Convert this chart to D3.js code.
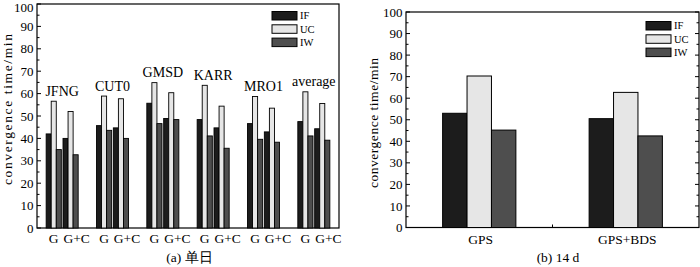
<!DOCTYPE html>
<html>
<head>
<meta charset="utf-8">
<script src="https://cdn.jsdelivr.net/npm/d3@7"></script>
<style>
    body { margin: 0; background: #fff; }
    svg { display: block; font-family: "Liberation Serif", "Times New Roman", serif; }
</style>
</head>
<body>
<div id="chart"></div>
<script>
// (a) single day, per station and mode [G, G+C]
const stations = ["JFNG", "CUT0", "GMSD", "KARR", "MRO1", "average"];
const modes = ["G", "G+C"];
const seriesNames = ["IF", "UC", "IW"];
const ifDaily = [[42.0, 40.0], [45.7, 44.7], [55.7, 48.9], [48.4, 44.7], [46.6, 42.9], [47.5, 44.3]];
const ucDaily = [[56.6, 52.0], [58.9, 57.7], [64.9, 60.4], [63.7, 54.4], [58.7, 53.5], [60.8, 55.6]];
const iwDaily = [[35.0, 32.7], [43.6, 40.0], [46.6, 48.4], [41.1, 35.6], [39.6, 38.3], [41.1, 39.2]];

// (b) 14 d
const systems = ["GPS", "GPS+BDS"];
const if14 = [53.0, 50.5];
const uc14 = [70.3, 62.7];
const iw14 = [45.2, 42.5];

const yTicks = [0, 10, 20, 30, 40, 50, 60, 70, 80, 90, 100];
const yMinorTicks = [5, 15, 25, 35, 45, 55, 65, 75, 85, 95];

const colors = { IF: "#1c1c1c", UC: "#e6e6e6", IW: "#4e4e4e" };

const svg = d3.select("#chart").append("svg")
    .attr("width", 700)
    .attr("height", 267);

function drawFrame(x0, x1, y, rightTicks) {
    const g = svg.append("g");
    const top = y.range()[1], bottom = y.range()[0];

    g.append("rect")
        .attr("x", x0).attr("y", top)
        .attr("width", x1 - x0).attr("height", bottom - top)
        .attr("fill", "none").attr("stroke", "#000").attr("stroke-width", 1.2);

    g.selectAll(".major").data(yTicks).enter().append("line")
        .attr("x1", x0).attr("x2", x0 + 4)
        .attr("y1", d => y(d)).attr("y2", d => y(d))
        .attr("stroke", "#000");
    g.selectAll(".minor").data(yMinorTicks).enter().append("line")
        .attr("x1", x0).attr("x2", x0 + 2.5)
        .attr("y1", d => y(d)).attr("y2", d => y(d))
        .attr("stroke", "#000");

    if (rightTicks) {
        g.selectAll(".rmajor").data(yTicks).enter().append("line")
            .attr("x1", x1).attr("x2", x1 - 4)
            .attr("y1", d => y(d)).attr("y2", d => y(d))
            .attr("stroke", "#000");
        g.selectAll(".rminor").data(yMinorTicks).enter().append("line")
            .attr("x1", x1).attr("x2", x1 - 2.5)
            .attr("y1", d => y(d)).attr("y2", d => y(d))
            .attr("stroke", "#000");
    }

    // keep the top label inside the picture
    g.selectAll(".ylab").data(yTicks).enter().append("text")
        .attr("x", x0 - 3.5)
        .attr("y", d => Math.max(y(d), 7))
        .attr("dy", "0.35em")
        .attr("text-anchor", "end")
        .style("font-size", "13px")
        .text(d => d);
    return g;
}

function drawLegend(x, y0) {
    const lg = svg.append("g").attr("transform", `translate(${x}, ${y0})`);
    seriesNames.forEach((name, i) => {
        lg.append("rect")
            .attr("x", 0).attr("y", i * 13.3)
            .attr("width", 25).attr("height", 8.5)
            .attr("fill", colors[name]).attr("stroke", "#000");
        lg.append("text")
            .attr("x", 28).attr("y", i * 13.3 + 4.3)
            .attr("dy", "0.35em")
            .style("font-size", "10.5px")
            .text(name);
    });
}

function yTitle(cx, cy, len) {
    svg.append("text")
        .attr("transform", `translate(${cx}, ${cy}) rotate(-90)`)
        .attr("dy", "0.35em")
        .attr("text-anchor", "middle")
        .attr("textLength", len)
        .attr("lengthAdjust", "spacing")
        .style("font-size", "13.5px")
        .text("convergence time/min");
}

// ---------- (a) ----------
const yA = d3.scaleLinear().domain([0, 100]).range([228, 4]);
const xA = d3.scaleBand().domain(stations).range([37, 339])
    .paddingInner(0.364).paddingOuter(0.182);
const xMode = d3.scaleBand().domain(modes).range([0, xA.bandwidth()]).paddingInner(0.1);
const xSer = d3.scaleBand().domain(seriesNames).range([0, xMode.bandwidth()]);

drawFrame(37, 339, yA, false);

const dailyRows = [];
stations.forEach((s, i) => {
    modes.forEach((m, j) => {
        dailyRows.push({ station: s, mode: m, IF: ifDaily[i][j], UC: ucDaily[i][j], IW: iwDaily[i][j] });
    });
});

const barsA = svg.append("g");
dailyRows.forEach(row => {
    seriesNames.forEach(name => {
        barsA.append("rect")
            .attr("x", xA(row.station) + xMode(row.mode) + xSer(name))
            .attr("y", yA(row[name]))
            .attr("width", xSer.bandwidth())
            .attr("height", yA(0) - yA(row[name]))
            .attr("fill", colors[name])
            .attr("stroke", "#000")
            .attr("stroke-width", 0.9);
    });
});

stations.forEach((s, i) => {
    const top = d3.max([ucDaily[i][0], ucDaily[i][1], ifDaily[i][0], ifDaily[i][1]]);
    svg.append("text")
        .attr("x", xA(s) + xA.bandwidth() / 2)
        .attr("y", yA(top) - 5.5)
        .attr("text-anchor", "middle")
        .style("font-size", "14px")
        .text(s);

    modes.forEach(m => {
        const left = xA(s) + xMode(m);
        svg.append("text")
            .attr("x", m === "G" ? left + xMode.bandwidth() / 2 : left + 0.5)
            .attr("y", 243)
            .attr("text-anchor", m === "G" ? "middle" : "start")
            .style("font-size", "13.5px")
            .text(m);
    });
});

drawLegend(272, 11.5);
yTitle(7.5, 109.5, 151);

svg.append("text")
    .attr("x", 189.5).attr("y", 262)
    .attr("text-anchor", "middle")
    .style("font-size", "13.5px")
    .text("(a) 单日");

// ---------- (b) ----------
const yB = d3.scaleLinear().domain([0, 100]).range([227.5, 12]);
const xB = d3.scaleBand().domain(systems).range([406, 699])
    .paddingInner(0.5).paddingOuter(0.25);
const xSerB = d3.scaleBand().domain(seriesNames).range([0, xB.bandwidth()]);

const frameB = drawFrame(406, 699, yB, true);

const rowsB = systems.map((s, i) => ({ system: s, IF: if14[i], UC: uc14[i], IW: iw14[i] }));
const barsB = svg.append("g");
rowsB.forEach(row => {
    seriesNames.forEach(name => {
        barsB.append("rect")
            .attr("x", xB(row.system) + xSerB(name))
            .attr("y", yB(row[name]))
            .attr("width", xSerB.bandwidth())
            .attr("height", yB(0) - yB(row[name]))
            .attr("fill", colors[name])
            .attr("stroke", "#000")
            .attr("stroke-width", 1);
    });
});

// bottom ticks: at the categories and one between
const centers = systems.map(s => xB(s) + xB.bandwidth() / 2);
frameB.selectAll(".xtick").data(centers.concat([(centers[0] + centers[1]) / 2])).enter().append("line")
    .attr("x1", d => d).attr("x2", d => d)
    .attr("y1", yB(0)).attr("y2", yB(0) - 3)
    .attr("stroke", "#000");

systems.forEach((s, i) => {
    svg.append("text")
        .attr("x", centers[i] + 1.5)
        .attr("y", 244)
        .attr("text-anchor", "middle")
        .style("font-size", "13.5px")
        .text(s);
});

drawLegend(646, 21.5);
yTitle(373.5, 123, 130);

svg.append("text")
    .attr("x", 558).attr("y", 262)
    .attr("text-anchor", "middle")
    .style("font-size", "13.5px")
    .text("(b) 14 d");
</script>
</body>
</html>
